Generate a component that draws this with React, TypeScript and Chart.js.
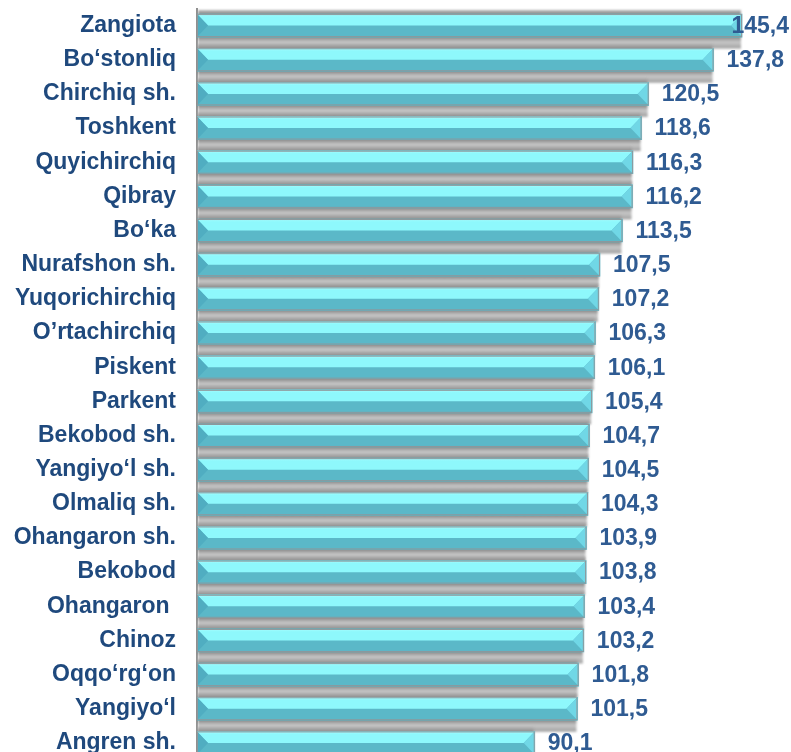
import { useEffect, useRef } from 'react';
import { Chart, registerables } from 'chart.js';

Chart.register(...registerables);

const categories = [
  'Zangiota', 'Bo‘stonliq', 'Chirchiq sh.', 'Toshkent', 'Quyichirchiq', 'Qibray', 'Bo‘ka',
  'Nurafshon sh.', 'Yuqorichirchiq', 'O’rtachirchiq', 'Piskent', 'Parkent', 'Bekobod sh.',
  'Yangiyo‘l sh.', 'Olmaliq sh.', 'Ohangaron sh.', 'Bekobod', 'Ohangaron ', 'Chinoz',
  'Oqqo‘rg‘on', 'Yangiyo‘l', 'Angren sh.',
];
const values = [
  145.4, 137.8, 120.5, 118.6, 116.3, 116.2, 113.5, 107.5, 107.2, 106.3, 106.1,
  105.4, 104.7, 104.5, 104.3, 103.9, 103.8, 103.4, 103.2, 101.8, 101.5, 90.1,
];

const FONT = "'Liberation Sans', Arial, sans-serif";
const LABEL_COLOR = '#1f497d';
const VALUE_COLOR = '#2f5b92';
const LIGHT = '#8ef8fc';
const HIGHLIGHT = '#a6fdfe';
const DARK = '#5bb8c8';
const LEFT_FACET = '#50adc1';
const RIGHT_FACET = '#70d7e6';

const fmt = (v: number) => v.toFixed(1).replace('.', ',');

const bevelPlugin = {
  id: 'bevel',
  beforeDatasetsDraw(chart: any) {
    const ctx = chart.ctx as CanvasRenderingContext2D;
    const meta = chart.getDatasetMeta(0);
    ctx.save();
    ctx.filter = 'blur(1.2px)';
    meta.data.forEach((el: any) => {
      const { x, y, base, height } = el.getProps(['x', 'y', 'base', 'height'], true);
      const top = y - height / 2;
      const bottom = y + height / 2;
      const y0 = top - 4;
      const y1 = bottom + 11.5;
      const total = y1 - y0;
      const g = ctx.createLinearGradient(0, y0, 0, y1);
      g.addColorStop(0, '#b4b4b4');
      g.addColorStop(4 / total, '#8e8e8e');
      g.addColorStop((height + 4) / total, '#8a8a8a');
      g.addColorStop((height + 9) / total, '#c8c8c8');
      g.addColorStop(1, '#a0a0a0');
      ctx.fillStyle = g;
      ctx.fillRect(base + 1, y0, x - 2 - base, total);
    });
    ctx.restore();
  },
  afterDatasetsDraw(chart: any) {
    const ctx = chart.ctx as CanvasRenderingContext2D;
    const meta = chart.getDatasetMeta(0);
    const data = chart.data.datasets[0].data as number[];
    ctx.save();
    meta.data.forEach((el: any, i: number) => {
      const { x, y, base, height } = el.getProps(['x', 'y', 'base', 'height'], true);
      const top = y - height / 2;
      const bottom = y + height / 2;
      const mid = y;
      const b = 11;
      const x0 = base;
      const x1 = x;
      ctx.fillStyle = DARK;
      ctx.fillRect(x0, top, x1 - x0, height);
      const lg = ctx.createLinearGradient(0, top, 0, mid);
      lg.addColorStop(0, HIGHLIGHT);
      lg.addColorStop(0.25, LIGHT);
      lg.addColorStop(1, LIGHT);
      ctx.fillStyle = lg;
      ctx.beginPath();
      ctx.moveTo(x0, top);
      ctx.lineTo(x1, top);
      ctx.lineTo(x1 - b, mid);
      ctx.lineTo(x0 + b, mid);
      ctx.closePath();
      ctx.fill();
      ctx.fillStyle = LEFT_FACET;
      ctx.beginPath();
      ctx.moveTo(x0, top);
      ctx.lineTo(x0 + b, mid);
      ctx.lineTo(x0, bottom);
      ctx.closePath();
      ctx.fill();
      ctx.fillStyle = RIGHT_FACET;
      ctx.beginPath();
      ctx.moveTo(x1, top);
      ctx.lineTo(x1 - b, mid);
      ctx.lineTo(x1, bottom);
      ctx.closePath();
      ctx.fill();
      ctx.strokeStyle = '#8d979b';
      ctx.lineWidth = 1;
      ctx.strokeRect(x0 + 0.5, top + 0.5, x1 - x0 - 1, height - 1);

      ctx.font = `bold 23px ${FONT}`;
      ctx.fillStyle = VALUE_COLOR;
      ctx.textBaseline = 'middle';
      ctx.textAlign = 'left';
      const txt = fmt(data[i]);
      const w = ctx.measureText(txt).width;
      let tx = x1 + 13;
      const limit = chart.width - 2;
      if (tx + w > limit) tx = limit - w;
      ctx.fillText(txt, tx, y + 1);
    });
    ctx.restore();
  },
};

export default function App() {
  const ref = useRef<HTMLCanvasElement | null>(null);

  useEffect(() => {
    if (!ref.current) return;
    const chart = new Chart(ref.current, {
      type: 'bar',
      data: {
        labels: categories,
        datasets: [
          {
            data: values,
            backgroundColor: DARK,
            borderWidth: 0,
            barThickness: 23,
          },
        ],
      },
      options: {
        indexAxis: 'y',
        animation: false,
        responsive: true,
        maintainAspectRatio: false,
        layout: { padding: { top: 8.5, right: 13, bottom: 0, left: 0 } },
        plugins: {
          legend: { display: false },
          tooltip: { enabled: false },
        },
        scales: {
          x: {
            display: false,
            min: 0,
            max: 155,
          },
          y: {
            grid: { display: false, drawTicks: false },
            border: { display: true, color: '#8f8f8f', width: 2 },
            ticks: {
              color: LABEL_COLOR,
              font: { family: FONT, size: 23, weight: 'bold' },
              padding: 21,
              autoSkip: false,
            },
            afterFit: (scale: any) => {
              scale.width = 197;
              scale.paddingTop = 0;
              scale.paddingBottom = 0;
            },
          },
        },
      },
      plugins: [bevelPlugin],
    });
    return () => chart.destroy();
  }, []);

  return (
    <div
      style={{
        position: 'absolute',
        left: 0,
        top: 0,
        width: 791,
        height: 752,
        overflow: 'hidden',
        background: '#ffffff',
      }}
    >
      <div style={{ position: 'relative', width: 791, height: 760 }}>
        <canvas ref={ref} />
      </div>
    </div>
  );
}
